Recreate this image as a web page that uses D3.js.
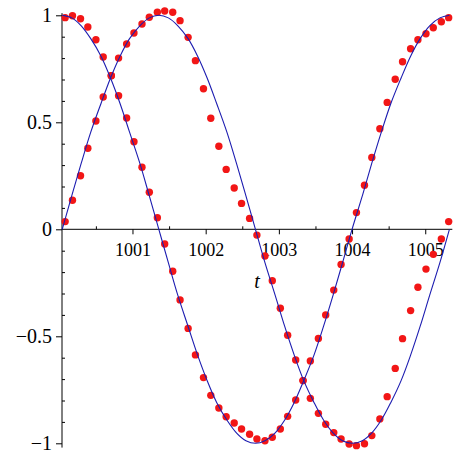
<!DOCTYPE html>
<html>
<head>
<meta charset="utf-8">
<script src="https://cdn.jsdelivr.net/npm/d3@7"></script>
<style>
  html, body { margin: 0; padding: 0; background: #fff; }
  svg { display: block; }
  svg text { font-family: "Liberation Serif", "Times New Roman", "DejaVu Serif", serif; }
</style>
</head>
<body>
<svg id="chart" width="456" height="457"></svg>
<script>
// Reference curves (smooth), sampled at blueT
const blueT = [1000.04, 1000.17, 1000.30, 1000.43, 1000.57, 1000.70, 1000.83, 1000.96, 1001.10, 1001.23,
               1001.36, 1001.49, 1001.62, 1001.76, 1001.89, 1002.02, 1002.15, 1002.29, 1002.42, 1002.55,
               1002.68, 1002.81, 1002.95, 1003.08, 1003.21, 1003.34, 1003.48, 1003.61, 1003.74, 1003.87,
               1004.00, 1004.14, 1004.27, 1004.40, 1004.53, 1004.67, 1004.80, 1004.93, 1005.06, 1005.20,
               1005.33];
const blueA = [1, 0.988, 0.951, 0.891, 0.809, 0.707, 0.588, 0.454, 0.309, 0.156,
               0, -0.156, -0.309, -0.454, -0.588, -0.707, -0.809, -0.891, -0.951, -0.988,
               -1, -0.988, -0.951, -0.891, -0.809, -0.707, -0.588, -0.454, -0.309, -0.156,
               0, 0.156, 0.309, 0.454, 0.588, 0.707, 0.809, 0.891, 0.951, 0.988,
               1];
const blueB = [0, 0.156, 0.309, 0.454, 0.588, 0.707, 0.809, 0.891, 0.951, 0.988,
               1, 0.988, 0.951, 0.891, 0.809, 0.707, 0.588, 0.454, 0.309, 0.156,
               0, -0.156, -0.309, -0.454, -0.588, -0.707, -0.809, -0.891, -0.951, -0.988,
               -1, -0.988, -0.951, -0.891, -0.809, -0.707, -0.588, -0.454, -0.309, -0.156,
               0];

// Sampled points (red), taken at dotT
const dotT = [1000.08, 1000.18, 1000.29, 1000.39, 1000.50, 1000.60, 1000.71, 1000.81, 1000.92, 1001.02,
              1001.13, 1001.23, 1001.34, 1001.44, 1001.55, 1001.65, 1001.76, 1001.86, 1001.97, 1002.07,
              1002.18, 1002.28, 1002.39, 1002.49, 1002.60, 1002.70, 1002.81, 1002.91, 1003.02, 1003.12,
              1003.23, 1003.33, 1003.43, 1003.54, 1003.64, 1003.75, 1003.85, 1003.96, 1004.06, 1004.17,
              1004.27, 1004.38, 1004.48, 1004.59, 1004.69, 1004.80, 1004.90, 1005.01, 1005.11, 1005.22,
              1005.32];
const dotsA = [0.989, 0.998, 0.984, 0.945, 0.886, 0.805, 0.718, 0.624, 0.520, 0.409,
               0.290, 0.173, 0.054, -0.069, -0.196, -0.330, -0.463, -0.587, -0.693, -0.776,
               -0.835, -0.876, -0.905, -0.933, -0.958, -0.980, -0.988, -0.972, -0.933, -0.874,
               -0.798, -0.707, -0.615, -0.510, -0.400, -0.284, -0.164, -0.045, 0.078, 0.206,
               0.336, 0.470, 0.593, 0.701, 0.783, 0.844, 0.886, 0.914, 0.942, 0.970,
               0.989];
const dotsB = [0.036, 0.136, 0.250, 0.379, 0.506, 0.618, 0.718, 0.800, 0.866, 0.917,
               0.959, 0.991, 1.014, 1.020, 1.014, 0.975, 0.897, 0.788, 0.657, 0.519,
               0.388, 0.280, 0.193, 0.121, 0.051, -0.027, -0.125, -0.240, -0.369, -0.495,
               -0.611, -0.707, -0.790, -0.860, -0.911, -0.950, -0.980, -1.003, -1.011, -1.002,
               -0.964, -0.886, -0.782, -0.650, -0.511, -0.380, -0.271, -0.186, -0.117, -0.045,
               0.036];

// Axis ticks
const xMajorTicks = [1001, 1002, 1003, 1004, 1005];
const xMinorTicks = [1000.5, 1001.5, 1002.5, 1003.5, 1004.5];
const yMajorTicks = [-1, -0.5, 0, 0.5, 1];
const yMinorTicks = [-0.9, -0.8, -0.7, -0.6, -0.4, -0.3, -0.2, -0.1,
                     0.1, 0.2, 0.3, 0.4, 0.6, 0.7, 0.8, 0.9];
const xAxisTitle = "t";

const svg = d3.select("#chart");
const serif = '"Liberation Serif", "Times New Roman", "DejaVu Serif", serif';

const x = d3.scaleLinear().domain([1000.037, 1005.33]).range([62, 449.4]);
const y = d3.scaleLinear().domain([-1, 1]).range([443.3, 15.3]);

// axis lines
svg.append("line")
  .attr("x1", x(1000.037)).attr("x2", x(1005.37))
  .attr("y1", y(0)).attr("y2", y(0))
  .attr("stroke", "#000").attr("stroke-width", 1);
svg.append("line")
  .attr("x1", x(1000.037)).attr("x2", x(1000.037))
  .attr("y1", y(1.01)).attr("y2", y(-1.02))
  .attr("stroke", "#000").attr("stroke-width", 1);

// x axis: major ticks below with labels, minor ticks above
const gxMajor = svg.append("g").attr("transform", `translate(0,${y(0)})`)
  .call(d3.axisBottom(x).tickValues(xMajorTicks).tickSize(5).tickPadding(9)
        .tickFormat(d3.format("d")));
const gxMinor = svg.append("g").attr("transform", `translate(0,${y(0)})`)
  .call(d3.axisTop(x).tickValues(xMinorTicks).tickSize(3).tickFormat(""));

// y axis: major ticks left with labels, minor ticks right
const gyMajor = svg.append("g").attr("transform", `translate(${x(1000.037)},0)`)
  .call(d3.axisLeft(y).tickValues(yMajorTicks).tickSize(6).tickPadding(4)
        .tickFormat(d3.format("~g")));
const gyMinor = svg.append("g").attr("transform", `translate(${x(1000.037)},0)`)
  .call(d3.axisRight(y).tickValues(yMinorTicks).tickSize(3).tickFormat(""));

[gxMajor, gxMinor, gyMajor, gyMinor].forEach(g => {
  g.attr("font-family", null);
  g.select(".domain").remove();
  g.selectAll(".tick line").attr("stroke", "#000").attr("stroke-width", 1);
  g.selectAll(".tick text").attr("fill", "#000").style("font-family", serif);
});
gxMajor.selectAll(".tick text").style("font-size", "18px");
gyMajor.selectAll(".tick text").style("font-size", "20px");

// axis title
svg.append("text")
  .attr("x", 257).attr("y", 288)
  .attr("text-anchor", "middle")
  .style("font-family", serif)
  .style("font-style", "italic")
  .style("font-size", "20px")
  .attr("fill", "#000")
  .text(xAxisTitle);

// red sampled points
const dotColor = "#f21616";
[dotsA, dotsB].forEach(vals => {
  svg.append("g").selectAll("circle")
    .data(dotT.map((t, i) => [t, vals[i]]))
    .join("circle")
    .attr("cx", d => x(d[0]))
    .attr("cy", d => y(d[1]))
    .attr("r", 3.7)
    .attr("fill", dotColor);
});

// blue curves
const line = d3.line()
  .x(d => x(d[0]))
  .y(d => y(d[1]))
  .curve(d3.curveCatmullRom.alpha(0.5));
[blueA, blueB].forEach(vals => {
  svg.append("path")
    .datum(blueT.map((t, i) => [t, vals[i]]))
    .attr("d", line)
    .attr("fill", "none")
    .attr("stroke", "#1c1cb0")
    .attr("stroke-width", 1.1);
});
</script>
</body>
</html>
